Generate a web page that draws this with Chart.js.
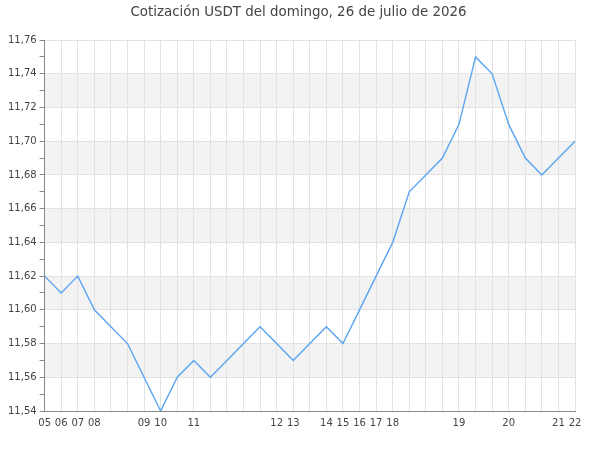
<!DOCTYPE html>
<html>
<head>
<meta charset="utf-8">
<script src="https://cdn.jsdelivr.net/npm/chart.js@4"></script>
<style>
  body { margin: 0; background: #fff; }
</style>
</head>
<body>
<canvas id="chart" width="600" height="450"></canvas>
<script>
const CHART = document.getElementById("chart");

// hour label only on the first reading of each hour
const labels = ['05','06','07','08','','','09','10','','11','','','','','12','13','','14','15','16','17','18','','','','19','','','20','','','21','22'];
const prices = [11.62,11.61,11.62,11.60,11.59,11.58,11.56,11.54,11.56,11.57,11.56,11.57,11.58,11.59,11.58,11.57,11.58,11.59,11.58,11.60,11.62,11.64,11.67,11.68,11.69,11.71,11.75,11.74,11.71,11.69,11.68,11.69,11.70];
const yMin = 11.54;
const yMax = 11.76;

function isMajor(v) {
    return Math.round(v * 100) % 2 === 0;
}

// grey stripes between every other pair of major ticks
const bands = {
    id: 'bands',
    beforeDraw(chart) {
        const ctx = chart.ctx;
        const y = chart.scales.y;
        const area = chart.chartArea;
        ctx.save();
        ctx.fillStyle = '#f3f3f3';
        let i = 0;
        for (let v = yMin; v < yMax - 0.001; v += 0.02) {
            if (i % 2 === 1) {
                const top = y.getPixelForValue(v + 0.02);
                const bottom = y.getPixelForValue(v);
                ctx.fillRect(area.left, top, area.right - area.left, bottom - top);
            }
            i++;
        }
        ctx.restore();
    }
};

Chart.defaults.font.family = "'DejaVu Sans', sans-serif";
Chart.defaults.color = '#444';

const chart = new Chart(CHART, {
    type: 'line',
    plugins: [bands],
    data: {
        labels: labels,
        datasets: [{
            label: 'USDT',
            data: prices,
            borderColor: 'rgb(90,165,242)',
            borderWidth: 1.4,
            pointRadius: 0,
            tension: 0,
            fill: false
        }]
    },
    options: {
        responsive: false,
        animation: false,
        layout: {
            padding: {left: 5, right: 8, top: 0, bottom: 15}
        },
        plugins: {
            legend: {display: false},
            tooltip: {enabled: false},
            title: {
                display: true,
                text: 'Cotización USDT del domingo, 26 de julio de 2026',
                color: '#444',
                font: {size: 13.4, weight: 'normal'},
                padding: {top: 4, bottom: 20}
            }
        },
        scales: {
            x: {
                offset: false,
                grid: {color: '#e2e2e2', drawTicks: false},
                border: {color: '#888'},
                ticks: {autoSkip: false, maxRotation: 0, padding: 6, font: {size: 10}}
            },
            y: {
                min: yMin,
                max: yMax,
                border: {color: '#888'},
                grid: {
                    color: (c) => isMajor(c.tick.value) ? '#e2e2e2' : 'rgba(0,0,0,0)',
                    tickColor: '#888',
                    tickLength: 5
                },
                ticks: {
                    stepSize: 0.01,
                    autoSkip: false,
                    padding: 3,
                    font: {size: 10},
                    callback: (v) => isMajor(v) ? v.toFixed(2).replace('.', ',') : ''
                }
            },
            // empty right-hand spacer so the title sits centred like the original
            spacer: {
                type: 'linear',
                position: 'right',
                display: true,
                grid: {display: false, drawTicks: false},
                border: {display: false},
                ticks: {display: false},
                afterFit: (s) => { s.width = 17; }
            }
        }
    }
});
</script>
</body>
</html>
